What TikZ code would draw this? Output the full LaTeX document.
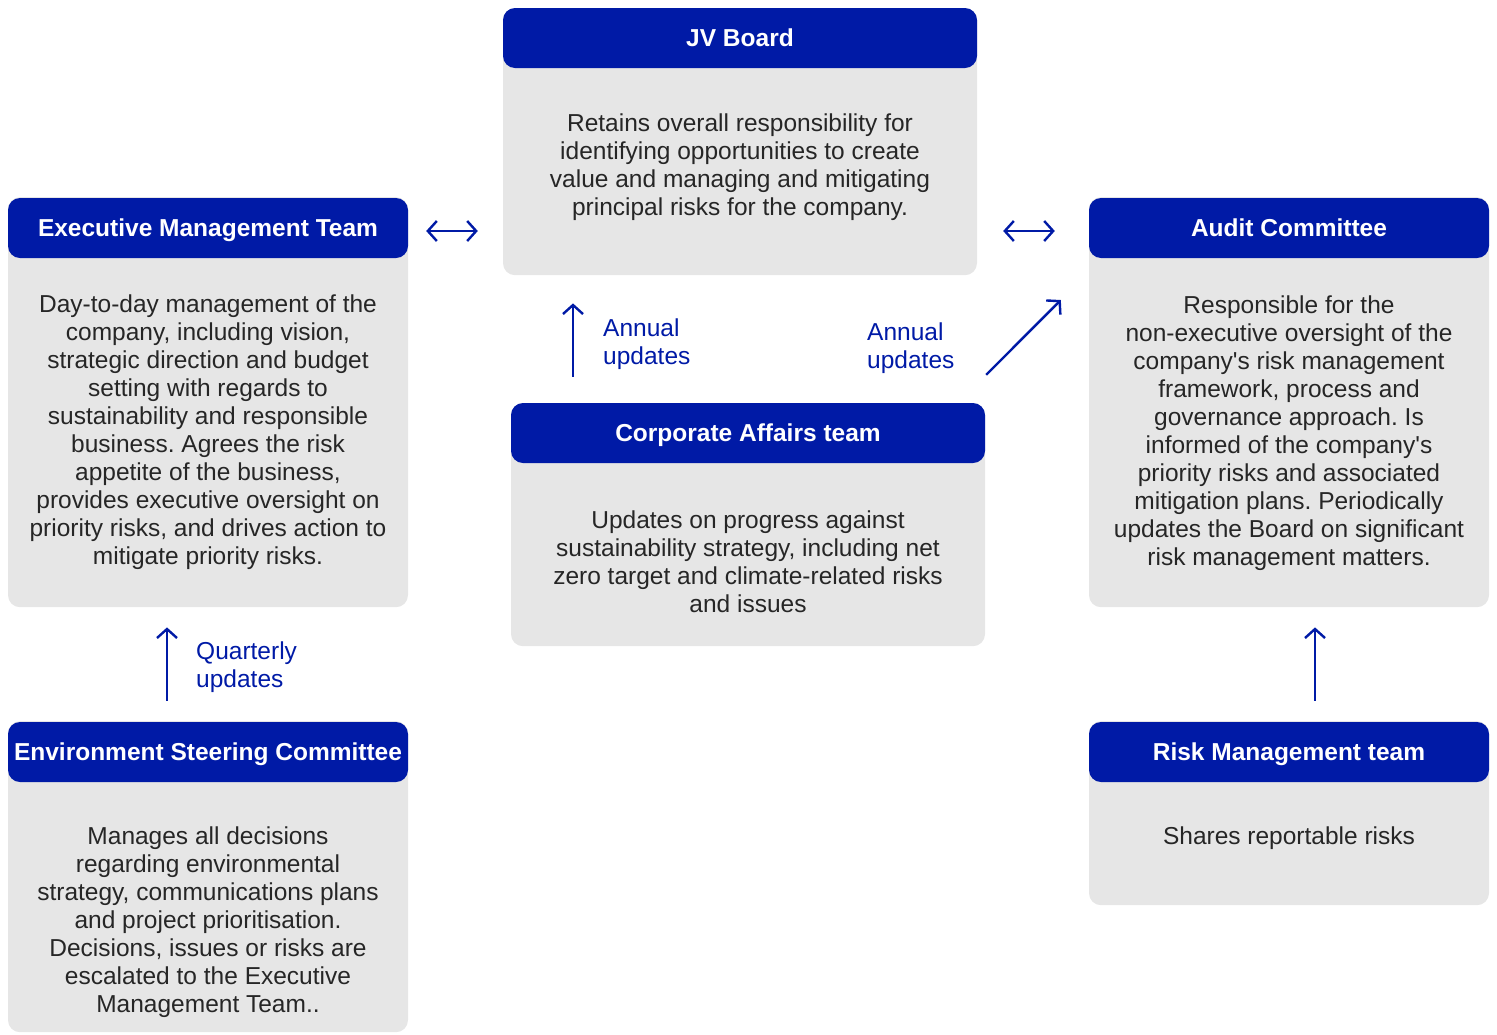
\documentclass[tikz,border=0pt]{standalone}
\usepackage{fontspec}
\setmainfont{Liberation Sans}
\usetikzlibrary{arrows.meta}
\definecolor{brandblue}{HTML}{001AA6}
\definecolor{panelgrey}{HTML}{E6E6E6}
\newcommand{\ap}{\textquotesingle}
\begin{document}
\frenchspacing
\begin{tikzpicture}[x=1pt,y=-1pt,
  header/.style={fill=brandblue, rounded corners=12pt, text=white, inner sep=0pt,
    font=\fontsize{24.5}{28}\selectfont\bfseries, minimum height=60pt,
    text height=17.5pt, text depth=0pt},
  panel/.style={fill=panelgrey, rounded corners=12pt, inner sep=0pt, anchor=north},
  bodytext/.style={align=center, inner sep=0pt, text=black!85,
    font=\fontsize{24.5}{28}\selectfont},
  note/.style={align=left, inner sep=0pt, anchor=west, text=brandblue,
    font=\fontsize{24.5}{28}\selectfont},
  tip/.style={Straight Barb[length=9pt,width=20pt,line width=2.4pt]},
  conn/.style={draw=brandblue, line width=2.4pt, arrows={-Straight Barb[length=9pt,width=20pt,line width=2.4pt]}},
  both/.style={draw=brandblue, line width=2.4pt,
    arrows={Straight Barb[length=9pt,width=20pt,line width=2.4pt]-Straight Barb[length=9pt,width=20pt,line width=2.4pt]}}
]
\useasboundingbox (0,0) rectangle (1497,1034);

% JV Board
\node[panel, minimum width=474pt, minimum height=267pt] (jvp) at (740,8) {};
\node[header, minimum width=474pt] (jvh) at (740,38) {JV Board};
\node[bodytext] (jvt) at (740,167) {Retains overall responsibility for\\identifying opportunities to create\\value and managing and mitigating\\principal risks for the company.};

% Executive Management Team
\node[panel, minimum width=400pt, minimum height=410pt] (exp) at (208,197) {};
\node[header, minimum width=400pt] (exh) at (208,228) {Executive Management Team};
\node[bodytext] (ext) at (208,432) {Day-to-day management of the\\company, including vision,\\strategic direction and budget\\setting with regards to\\sustainability and responsible\\business. Agrees the risk\\appetite of the business,\\provides executive oversight on\\priority risks, and drives action to\\mitigate priority risks.};

% Audit Committee
\node[panel, minimum width=400pt, minimum height=410pt] (aup) at (1289,197) {};
\node[header, minimum width=400pt] (auh) at (1289,228) {Audit Committee};
\node[bodytext] (aut) at (1289,433) {Responsible for the\\non-executive oversight of the\\company\ap s risk management\\framework, process and\\governance approach. Is\\informed of the company\ap s\\priority risks and associated\\mitigation plans. Periodically\\updates the Board on significant\\risk management matters.};

% Corporate Affairs team
\node[panel, minimum width=474pt, minimum height=243pt] (cop) at (748,403) {};
\node[header, minimum width=474pt] (coh) at (748,433) {Corporate Affairs team};
\node[bodytext] (cot) at (748,562) {Updates on progress against\\sustainability strategy, including net\\zero target and climate-related risks\\and issues};

% Environment Steering Committee
\node[panel, minimum width=400pt, minimum height=311pt] (enp) at (208,721) {};
\node[header, minimum width=400pt] (enh) at (208,752) {Environment Steering Committee};
\node[bodytext] (ent) at (208,922) {Manages all decisions\\regarding environmental\\strategy, communications plans\\and project prioritisation.\\Decisions, issues or risks are\\escalated to the Executive\\Management Team..};

% Risk Management team
\node[panel, minimum width=400pt, minimum height=184pt] (rip) at (1289,721) {};
\node[header, minimum width=400pt] (rih) at (1289,752) {Risk Management team};
\node[bodytext] (rit) at (1289,838) {Shares reportable risks};

% Reporting lines
\draw[both] ([xshift=18pt,yshift=-3pt]exh.east) -- ([xshift=-25pt,yshift=-3pt]jvp.west |- exh.east);
\draw[both] ([xshift=26pt,yshift=-3pt]jvp.east |- auh.west) -- ([xshift=-34pt,yshift=-3pt]auh.west);
\draw[conn] ([xshift=-175pt,yshift=26pt]coh.north) -- ([xshift=-167pt,yshift=-28pt]jvp.south);
\draw[conn] ([xshift=1pt,yshift=28pt]coh.north east) -- ([xshift=-28pt,yshift=-103pt]aup.north west);
\draw[conn] ([xshift=-41pt,yshift=21pt]enh.north) -- ([xshift=-41pt,yshift=-20pt]exp.south);
\draw[conn] ([xshift=26pt,yshift=21pt]rih.north) -- ([xshift=26pt,yshift=-20pt]rip.north |- aup.south);

\node[note] (n1) at (603,344) {Annual\\updates};
\node[note] (n2) at (867,348) {Annual\\updates};
\node[note] (n3) at (196,667) {Quarterly\\updates};
\end{tikzpicture}
\end{document}
